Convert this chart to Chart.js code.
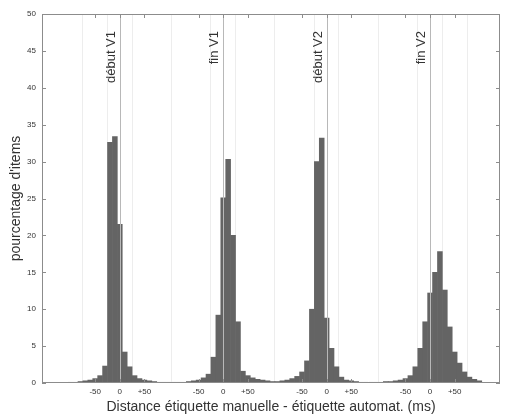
<!DOCTYPE html>
<html>
<head>
<meta charset="utf-8">
<script src="https://cdn.jsdelivr.net/npm/chart.js@4"></script>
<style>
	html, body { margin: 0; padding: 0; background: #fff; }
</style>
</head>
<body>
<canvas id="chart_histo" width="505" height="416"></canvas>
<script>
// centres des classes (ms), relatifs au repère de chaque groupe
var bin_centers = [-100, -90, -80, -70, -60, -50, -40, -30, -20, -10, 0, 10, 20, 30, 40, 50, 60, 70, 80, 90, 100];

// pourcentage d'items par classe
var debut_v1 = [0.1, 0.1, 0.2, 0.3, 0.4, 0.6, 1.0, 2.3, 32.6, 33.4, 21.5, 4.2, 2.2, 1.0, 0.6, 0.4, 0.3, 0.2, 0.1, 0.1, 0.1];
var fin_v1   = [0.1, 0.1, 0.1, 0.2, 0.3, 0.4, 0.7, 1.2, 3.5, 9.2, 25.1, 30.3, 20.0, 8.3, 1.6, 1.0, 0.7, 0.5, 0.4, 0.3, 0.2];
var debut_v2 = [0.2, 0.3, 0.4, 0.6, 0.9, 1.5, 3.0, 10.0, 30.0, 33.2, 8.8, 4.7, 2.2, 0.8, 0.4, 0.3, 0.2, 0.1, 0.1, 0.1, 0.1];
var fin_v2   = [0.1, 0.2, 0.2, 0.3, 0.4, 0.6, 1.0, 2.2, 4.7, 8.3, 12.2, 15.0, 17.8, 12.6, 7.6, 4.2, 2.7, 1.5, 0.8, 0.5, 0.3];

// repères
var group_names   = ["début V1", "fin V1", "début V2", "fin V2"];
var group_offsets = [0, 210, 420, 630];
var tick_ms       = [-50, 0, 50];
var tick_labels   = ["-50", "0", "+50"];
var y_ticks       = [0, 5, 10, 15, 20, 25, 30, 35, 40, 45, 50];

var series = [debut_v1, fin_v1, debut_v2, fin_v2];
var axis_color = "#8c8c8c";
var text_color = "#333";
var font_family = "'Liberation Sans', Arial, sans-serif";

/**
 * Lignes de repère, étiquettes verticales, cadre et petites graduations
 */
var markers_plugin = {
	id: "markers",
	afterDatasetsDraw: function(chart)
	{
		var ctx = chart.ctx;
		var x = chart.scales.x;
		var y = chart.scales.y;
		var area = chart.chartArea;

		ctx.save();

		//lignes verticales au zéro de chaque groupe + texte
		for(var i = 0; i < group_offsets.length; i++)
		{
			var px = Math.round(x.getPixelForValue(group_offsets[i])) + 0.5;
			ctx.strokeStyle = "#b8b8b8";
			ctx.lineWidth = 1;
			ctx.beginPath();
			ctx.moveTo(px, area.top);
			ctx.lineTo(px, area.bottom);
			ctx.stroke();

			ctx.save();
			ctx.translate(px - 9, area.top + 17);
			ctx.rotate(-Math.PI / 2);
			ctx.fillStyle = text_color;
			ctx.font = "13px " + font_family;
			ctx.textAlign = "right";
			ctx.textBaseline = "middle";
			ctx.fillText(group_names[i], 0, 0);
			ctx.restore();
		}

		//cadre
		ctx.strokeStyle = axis_color;
		ctx.lineWidth = 1;
		ctx.strokeRect(Math.round(area.left) + 0.5, Math.round(area.top) + 0.5,
			Math.round(area.right - area.left) - 1, Math.round(area.bottom - area.top) - 1);

		//graduations vers l'intérieur
		ctx.beginPath();
		for(var k = 0; k < y_ticks.length; k++)
		{
			var py = Math.round(y.getPixelForValue(y_ticks[k])) + 0.5;
			ctx.moveTo(area.left, py);
			ctx.lineTo(area.left + 4, py);
			ctx.moveTo(area.right, py);
			ctx.lineTo(area.right - 4, py);
		}
		x.ticks.forEach(function(t){
			var tx = Math.round(x.getPixelForValue(t.value)) + 0.5;
			ctx.moveTo(tx, area.bottom);
			ctx.lineTo(tx, area.bottom - 4);
			ctx.moveTo(tx, area.top);
			ctx.lineTo(tx, area.top + 4);
		});
		ctx.stroke();

		ctx.restore();
	}
};

setup_chart();

function setup_chart()
{
	var datasets = [];
	for(var i = 0; i < series.length; i++)
	{
		var pts = [];
		for(var b = 0; b < bin_centers.length; b++)
		{
			pts.push({ x: group_offsets[i] + bin_centers[b], y: series[i][b] });
		}
		datasets.push({
			label: group_names[i],
			data: pts,
			backgroundColor: "#646464",
			borderWidth: 0,
			inflateAmount: 0.3,
			barPercentage: 1,
			categoryPercentage: 1,
			grouped: false
		});
	}

	var options = {
		responsive: false,
		animation: false,
		layout: { padding: { top: 14, right: 5, left: 8, bottom: 0 } },
		plugins: {
			legend: { display: false },
			tooltip: { enabled: false }
		},
		scales: {
			x: {
				type: "linear",
				offset: false,
				min: -158,
				max: 772,
				afterBuildTicks: function(scale)
				{
					var t = [];
					group_offsets.forEach(function(off){
						tick_ms.forEach(function(m){ t.push({ value: off + m }); });
					});
					scale.ticks = t;
				},
				afterFit: function(scale){ scale.height = 33; },
				ticks: {
					autoSkip: false,
					maxRotation: 0,
					padding: 4,
					color: text_color,
					font: { size: 8, family: font_family },
					callback: function(value)
					{
						for(var i = 0; i < group_offsets.length; i++)
						{
							var j = tick_ms.indexOf(value - group_offsets[i]);
							if(j >= 0) return tick_labels[j];
						}
						return "";
					}
				},
				grid: {
					drawTicks: false,
					color: "#ededed",
					lineWidth: 1
				},
				border: { display: false },
				title: {
					display: true,
					text: "Distance étiquette manuelle - étiquette automat. (ms)",
					color: text_color,
					font: { size: 14, family: font_family },
					padding: { top: 0, bottom: 0 }
				}
			},
			y: {
				min: 0,
				max: 50,
				afterBuildTicks: function(scale)
				{
					scale.ticks = y_ticks.map(function(v){ return { value: v }; });
				},
				afterFit: function(scale){ scale.width = 34; },
				ticks: {
					autoSkip: false,
					padding: 6,
					color: text_color,
					font: { size: 8, family: font_family }
				},
				grid: { display: false, drawTicks: false },
				border: { display: false },
				title: {
					display: true,
					text: "pourcentage d'items",
					color: text_color,
					font: { size: 14, family: font_family },
					padding: { top: 0, bottom: 0 }
				}
			}
		}
	};

	new Chart(document.getElementById("chart_histo"), {
		type: "bar",
		data: { datasets: datasets },
		options: options,
		plugins: [markers_plugin]
	});
}
</script>
</body>
</html>
